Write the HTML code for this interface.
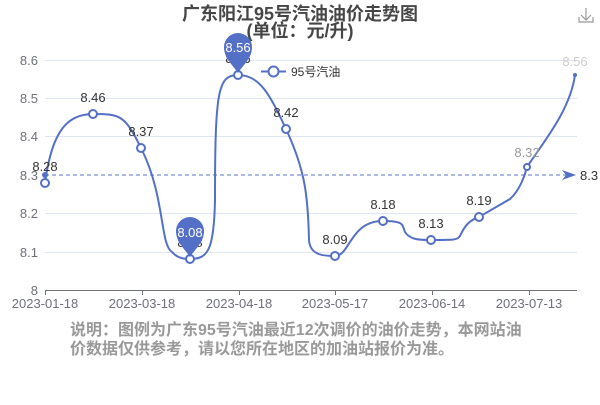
<!DOCTYPE html>
<html><head><meta charset="utf-8"><style>
body{margin:0;background:#fff;width:600px;height:400px;overflow:hidden}
svg text{font-family:"Liberation Sans","Noto Sans CJK SC",sans-serif}
</style></head><body>
<svg width="600" height="400" viewBox="0 0 600 400">
<text x="300" y="20" text-anchor="middle" font-size="18" font-weight="bold" fill="#464646">广东阳江95号汽油油价走势图</text>
<text x="300" y="37" text-anchor="middle" font-size="18" font-weight="bold" fill="#464646">(单位：元/升)</text>
<g stroke="#999" fill="none" stroke-width="1.2"><path d="M586 8v12M581 15l5 5 5-5M579 17v5h14v-5"/></g>
<g stroke="#e0e6f1" stroke-width="1">
<line x1="45" y1="60.5" x2="577" y2="60.5"/><line x1="45" y1="98.5" x2="577" y2="98.5"/>
<line x1="45" y1="136.5" x2="577" y2="136.5"/><line x1="45" y1="213.5" x2="577" y2="213.5"/>
<line x1="45" y1="252.5" x2="577" y2="252.5"/></g>
<line x1="45" y1="290.5" x2="577" y2="290.5" stroke="#6e7079"/>
<g stroke="#6e7079"><line x1="45.5" y1="290" x2="45.5" y2="295"/><line x1="142.5" y1="290" x2="142.5" y2="295"/><line x1="239.5" y1="290" x2="239.5" y2="295"/><line x1="335.5" y1="290" x2="335.5" y2="295"/><line x1="432.5" y1="290" x2="432.5" y2="295"/><line x1="529.5" y1="290" x2="529.5" y2="295"/></g>
<g font-size="13" fill="#6e7079" text-anchor="end">
<text x="38" y="65">8.6</text><text x="38" y="103">8.5</text><text x="38" y="141">8.4</text><text x="38" y="180">8.3</text><text x="38" y="218">8.2</text><text x="38" y="257">8.1</text><text x="38" y="295">8</text></g>
<g font-size="13" fill="#6e7079" text-anchor="middle">
<text x="45" y="308">2023-01-18</text><text x="142" y="308">2023-03-18</text><text x="239" y="308">2023-04-18</text><text x="335" y="308">2023-05-17</text><text x="432" y="308">2023-06-14</text><text x="529" y="308">2023-07-13</text></g>
<line x1="45" y1="175" x2="566" y2="175" stroke="#5470c6" stroke-dasharray="4,3"/>
<path d="M576 175l-14-5 4 5-4 5z" fill="#5470c6"/>
<circle cx="45" cy="175" r="3" fill="#5470c6"/>
<text x="580" y="180" font-size="13" fill="#333">8.3</text>
<path d="M45 183C52 130 68 114 93 114C120 114 125 115 141 148C165 195 160 245 172 252C178 259 186 259 190 259C208 259 214 250 215 200C215 90 218 75 238 75C260 75 270 95 286 129C305 170 308 195 309 240C310 256 325 256 335 256C350 256 350 221 383 221C405 221 402 225 405 232C410 240 420 240 431 240C455 240 457 240 460 236C465 225 470 220 479 217L510 199C520 190 525 175 527 167C545 140 570 110 575 75" fill="none" stroke="#5470c6" stroke-width="2"/>
<g fill="#fff" stroke="#5470c6" stroke-width="2">
<circle cx="45" cy="183" r="4"/><circle cx="93" cy="114" r="4"/><circle cx="141" cy="148" r="4"/><circle cx="190" cy="259" r="4"/><circle cx="238" cy="75" r="4"/><circle cx="286" cy="129" r="4"/><circle cx="335" cy="256" r="4"/><circle cx="383" cy="221" r="4"/><circle cx="431" cy="240" r="4"/><circle cx="479" cy="217" r="4"/><circle cx="527" cy="167" r="3"/></g>
<circle cx="575" cy="75" r="2" fill="#5470c6"/>
<g font-size="13" fill="#333" text-anchor="middle">
<text x="45" y="171">8.28</text><text x="93" y="102">8.46</text><text x="141" y="136">8.37</text><text x="190" y="247">8.08</text><text x="238" y="63">8.56</text><text x="286" y="117">8.42</text><text x="335" y="244">8.09</text><text x="383" y="209">8.18</text><text x="431" y="228">8.13</text><text x="479" y="205">8.19</text></g>
<text x="527" y="157" font-size="13" fill="#999" text-anchor="middle">8.32</text>
<text x="575" y="66" font-size="13" fill="#ccc" text-anchor="middle">8.56</text>
<path d="M238 73C232 64 224 58 224 47A14 14 0 1 1 252 47C252 58 244 64 238 73Z" fill="#5470c6"/>
<text x="238" y="52" font-size="13" fill="#fff" text-anchor="middle">8.56</text>
<path d="M190 257C184 248 176 242 176 231A14 14 0 1 1 204 231C204 242 196 248 190 257Z" fill="#5470c6"/>
<text x="190" y="237" font-size="13" fill="#fff" text-anchor="middle">8.08</text>
<line x1="261" y1="71.5" x2="286" y2="71.5" stroke="#5470c6" stroke-width="2"/>
<circle cx="273.5" cy="71.5" r="5" fill="#fff" stroke="#5470c6" stroke-width="2"/>
<text x="291" y="76" font-size="12" fill="#333">95号汽油</text>
<g font-size="16" fill="#999" font-weight="bold">
<text x="70" y="335">说明：图例为广东95号汽油最近12次调价的油价走势，本网站油</text>
<text x="70" y="354">价数据仅供参考，请以您所在地区的加油站报价为准。</text></g>
</svg>
</body></html>
